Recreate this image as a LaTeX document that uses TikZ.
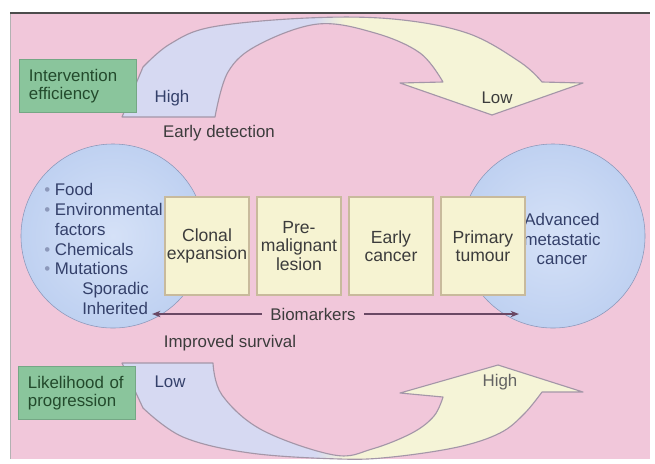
\documentclass[tikz,border=0pt]{standalone}
\usepackage{fontspec}
\setmainfont{Liberation Sans}
\usepackage{tikz}
\usetikzlibrary{arrows.meta,positioning}

\definecolor{bgpink}{HTML}{F1C7DA}
\definecolor{lav}{HTML}{D6D9F2}
\definecolor{pale}{HTML}{F5F4D7}
\definecolor{edgegray}{HTML}{A496A8}
\definecolor{bubble}{HTML}{BFD1F1}
\definecolor{bubblein}{HTML}{D5E1F7}
\definecolor{bubbleedge}{HTML}{8C98BA}
\definecolor{stagefill}{HTML}{F6F3D2}
\definecolor{stageedge}{HTML}{C8BA9C}
\definecolor{greenfill}{HTML}{8AC59C}
\definecolor{greentext}{HTML}{234A2C}
\definecolor{navytext}{HTML}{34406A}
\definecolor{graytext}{HTML}{3C3C3C}
\definecolor{bioline}{HTML}{6A4864}

% outline of the two curved bands
\newcommand{\toparrowpath}{(122,117) -- (143,67)
  -- plot[smooth, tension=0.6] coordinates {(143,67) (170,44) (212,27) (307,18) (393,19) (467,33) (520,62) (542,82)}
  -- (583,83) -- (492,115) -- (400,83)
  -- plot[smooth, tension=0.6] coordinates {(443,82) (420,53) (375,33) (318,24) (258,45) (228,72) (215,117)}
  -- cycle}
\newcommand{\botarrowpath}{(122,363) -- (213,363)
  -- plot[smooth, tension=0.6] coordinates {(213,363) (222,395) (262,430) (334,455) (372,449) (412,433) (434,416) (443,397)}
  -- (400,393) -- (498,365) -- (583,392)
  -- plot[smooth, tension=0.6] coordinates {(542,392) (524,414) (500,433) (458,447) (392,457) (340,459) (250,453) (183,437) (143,408)}
  -- cycle}
\newcommand{\itm}{{\color{bubbleedge}\textbullet}\ }

\begin{document}
\begin{tikzpicture}[
    x=0.025cm, y=-0.025cm,
    font=\fontsize{12}{14}\selectfont,
    stage/.style={rectangle, draw=stageedge, line width=1.4pt, fill=stagefill,
                  text width=2.1cm, inner xsep=0pt, minimum height=2.45cm,
                  align=center, text=graytext, font=\fontsize{12.5}{13}\selectfont},
    keybox/.style={rectangle, fill=greenfill, draw=greenfill!85!black,
                   text width=2.45cm, inner xsep=0.24cm, minimum height=1.325cm,
                   align=left, text=greentext, font=\fontsize{12}{12.5}\selectfont},
    bubble/.style={circle, draw=bubbleedge, inner color=bubblein,
                   outer color=bubble, minimum size=4.6cm, inner sep=0pt},
    bandedge/.style={draw=edgegray, line width=0.8pt, line join=round},
    bio/.style={bioline, line width=0.9pt, -{Stealth[length=6pt,width=4.5pt]}},
    lbl/.style={text=graytext, inner sep=1pt}
]
\useasboundingbox (0,0) rectangle (655,463);

% Background
\fill[bgpink] (10,13) rectangle (650,459);
\draw[gray!60] (10,459) -- (10,13);
\draw[black!70, line width=0.8pt] (10,13) -- (650,13);

% Top band: intervention efficiency
\begin{scope}
  \clip \toparrowpath;
  \fill[lav] (100,0) rectangle (315,130);
  \shade[left color=lav, right color=pale] (315,0) rectangle (345,130);
  \fill[pale] (345,0) rectangle (600,130);
\end{scope}
\draw[bandedge] \toparrowpath;

% Bottom band: likelihood of progression
\begin{scope}
  \clip \botarrowpath;
  \fill[lav] (100,350) rectangle (315,465);
  \shade[left color=lav, right color=pale] (315,350) rectangle (345,465);
  \fill[pale] (345,350) rectangle (600,465);
\end{scope}
\draw[bandedge] \botarrowpath;

% Key boxes
\node[keybox] (efficiency) at (78,86) {Intervention\\efficiency};
\node[keybox] (progression) at (77,393) {Likelihood of\\progression};

\node[text=navytext] (tophigh) at (172,98) {High};
\node[text=graytext] (toplow) at (497,98) {Low};
\node[text=navytext] (botlow) at (170,382) {Low};
\node[text=graytext!80] (bothigh) at (500,382) {High};
\node[lbl] (detect) at (219,133) {Early detection};
\node[lbl] (survival) at (230,343) {Improved survival};

% Circles
\node[bubble] (causes) at (113,236) {};
\node[bubble] (meta) at (553,236) {};

\node[anchor=west, align=left, inner sep=0pt, text=navytext] (causelist) at (44,249)
    {\itm Food\\
     \itm Environmental\\
     \hphantom{\itm}factors\\
     \itm Chemicals\\
     \itm Mutations\\
     \hspace*{0.95cm}Sporadic\\
     \hspace*{0.95cm}Inherited};
\node[align=center, text=navytext, font=\fontsize{12}{13.8}\selectfont] (metatext) at (562,239)
    {Advanced\\metastatic\\cancer};

% Stages
\node[stage] (clonal) at (207,246) {Clonal\\expansion};
\node[stage, right=0.15cm of clonal] (premal) {Pre-\\malignant\\lesion};
\node[stage, right=0.15cm of premal] (early) {Early\\cancer};
\node[stage, right=0.15cm of early] (primary) {Primary\\tumour};

% Biomarkers
\coordinate (bioL) at (152,314);
\coordinate (bioR) at (519,314);
\node[text=graytext, inner xsep=6pt] (bio) at (313,314) {Biomarkers};
\draw[bio] (bio) -- (bioL);
\draw[bio] (bio) -- (bioR);

\end{tikzpicture}
\end{document}
